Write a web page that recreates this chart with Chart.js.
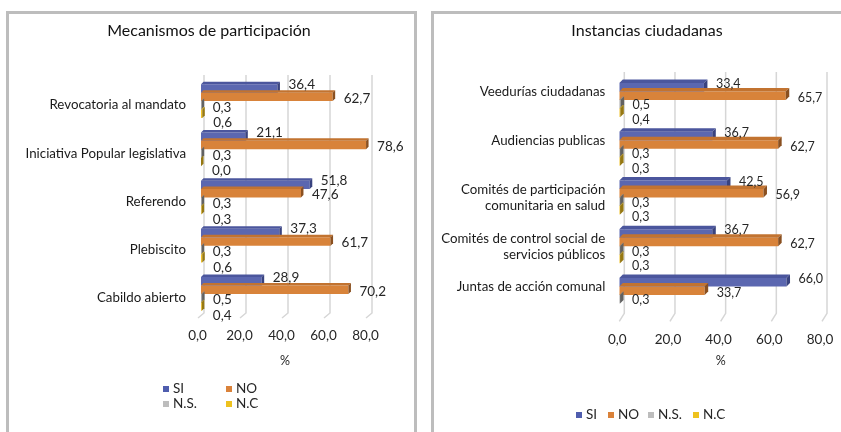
<!DOCTYPE html>
<html lang="es">
<head>
<meta charset="utf-8">
<title>Mecanismos de participación e instancias ciudadanas</title>
<script src="https://cdn.jsdelivr.net/npm/chart.js@4.4.1/dist/chart.umd.min.js"></script>
<style>
  html, body { margin: 0; padding: 0; background: #fff; overflow: hidden; }
  body { width: 841px; height: 432px; position: relative; font-family: Lato, sans-serif; }
  .box { position: absolute; border: 3px solid #bdbdbd; box-sizing: border-box; }
  canvas { position: absolute; top: 0; }
  .legend { position: absolute; font-size: 13.5px; color: #262626; }
  .legend span.item { position: absolute; white-space: nowrap; line-height: 15px; }
  .legend i { display: inline-block; width: 6px; height: 6px; margin-right: 4px; vertical-align: 1px; }
</style>
</head>
<body>
<div class="box" style="left:6px; top:11px; width:411px; height:450px;"></div>
<div class="box" style="left:431px; top:11px; width:440px; height:450px;"></div>
<canvas id="mecanismos" width="420" height="432" style="left:0"></canvas>
<canvas id="instancias" width="454" height="432" style="left:420px"></canvas>
<div class="legend" id="legendLeft"></div>
<div class="legend" id="legendRight"></div>
<script>
// series
const seriesNames = ['SI', 'NO', 'N.S.', 'N.C'];
const seriesColors = ['#5B67B0', '#D8833A', '#A7A7A7', '#F0C22C'];
const topColors = ['#4B569D', '#C27330', '#8E8E8E', '#D6AC22'];
const capColors = ['#39437F', '#8A5020', '#626262', '#967812'];
const legendColors = ['#4F5DAE', '#DA823A', '#BDBDBD', '#EEC21E'];
const xTicks = [0, 20, 40, 60, 80];

// Mecanismos de participación
const mecanismosCats = ['Revocatoria al mandato', 'Iniciativa Popular legislativa', 'Referendo', 'Plebiscito', 'Cabildo abierto'];
const mecanismosSI = [36.4, 21.1, 51.8, 37.3, 28.9];
const mecanismosNO = [62.7, 78.6, 47.6, 61.7, 70.2];
const mecanismosNS = [0.3, 0.3, 0.3, 0.3, 0.5];
const mecanismosNC = [0.6, 0.0, 0.3, 0.6, 0.4];

// Instancias ciudadanas (single-line names get an empty second line so they sit higher)
const instanciasCats = [
  ['Veedurías ciudadanas', ''],
  ['Audiencias publicas', ''],
  ['Comités de participación', 'comunitaria en salud'],
  ['Comités de control social de', 'servicios públicos'],
  ['Juntas de acción comunal', '']
];
const instanciasSI = [33.4, 36.7, 42.5, 36.7, 66.0];
const instanciasNO = [65.7, 62.7, 56.9, 62.7, 33.7];
const instanciasNS = [0.5, 0.3, 0.3, 0.3, 0.3];
const instanciasNC = [0.4, 0.3, 0.3, 0.3, null];

Chart.defaults.font.family = 'Lato';
Chart.defaults.color = '#262626';

const fmt = v => v.toFixed(1).replace('.', ',');

// fake 3D: slanted grid on the back wall, bar top/end faces, value labels and the title
const bars3d = {
  id: 'bars3d',
  beforeDatasetsDraw(chart, args, o) {
    const { ctx, chartArea: a, scales: { x } } = chart;
    ctx.save();
    ctx.strokeStyle = '#D6D6D6';
    ctx.lineWidth = 1.5;
    xTicks.forEach(v => {
      const px = x.getPixelForValue(v) + o.gridDx;
      ctx.beginPath();
      ctx.moveTo(px, a.top - o.gridRise);
      ctx.lineTo(px, a.bottom - o.footY);
      ctx.lineTo(px - o.footX, a.bottom + o.footDrop);
      ctx.stroke();
    });
    ctx.restore();
  },
  afterDatasetsDraw(chart, args, o) {
    const ctx = chart.ctx;
    const d = o.depth;
    ctx.save();
    chart.data.datasets.forEach((ds, i) => {
      chart.getDatasetMeta(i).data.forEach((bar, j) => {
        if (ds.data[j] == null) return;
        const { x, y, base, height } = bar.getProps(['x', 'y', 'base', 'height'], true);
        const top = y - height / 2, bottom = y + height / 2;
        ctx.fillStyle = topColors[i];
        ctx.beginPath();
        ctx.moveTo(base, top);
        ctx.lineTo(base + d, top - d);
        ctx.lineTo(x + d, top - d);
        ctx.lineTo(x, top);
        ctx.closePath();
        ctx.fill();
        ctx.fillStyle = capColors[i];
        ctx.beginPath();
        ctx.moveTo(x, top);
        ctx.lineTo(x + d, top - d);
        ctx.lineTo(x + d, bottom - d);
        ctx.lineTo(x, bottom);
        ctx.closePath();
        ctx.fill();
      });
    });
    ctx.restore();
  },
  afterDraw(chart, args, o) {
    const ctx = chart.ctx;
    ctx.save();
    ctx.font = o.labelSize + 'px Lato';
    ctx.fillStyle = '#262626';
    ctx.textAlign = 'left';
    ctx.textBaseline = 'middle';
    chart.data.datasets.forEach((ds, i) => {
      chart.getDatasetMeta(i).data.forEach((bar, j) => {
        const v = ds.data[j];
        if (v == null) return;
        ctx.fillText(fmt(v), bar.x + o.labelDx, bar.y + o.labelDy[i]);
      });
    });
    // chart title
    ctx.font = '16px Lato';
    ctx.fillStyle = '#111';
    ctx.textAlign = 'center';
    ctx.fillText(o.title, o.titleX, 31);
    ctx.restore();
  }
};

function makeChart(id, title, cats, series, lay) {
  return new Chart(document.getElementById(id), {
    type: 'bar',
    data: {
      labels: cats,
      datasets: series.map((data, i) => ({
        label: seriesNames[i],
        data: data,
        backgroundColor: seriesColors[i],
        borderWidth: 0,
        categoryPercentage: 0.7,
        barPercentage: 1.0
      }))
    },
    options: {
      indexAxis: 'y',
      responsive: false,
      animation: false,
      layout: { padding: { left: 0, right: lay.padRight, top: lay.padTop, bottom: lay.padBottom } },
      plugins: {
        legend: { display: false },
        tooltip: { enabled: false },
        title: { display: false },
        bars3d: Object.assign({ title: title }, lay.bars3d)
      },
      scales: {
        x: {
          min: 0,
          max: 80,
          afterBuildTicks: s => { s.ticks = xTicks.map(v => ({ value: v })); },
          afterFit: s => { s.height = lay.xHeight; },
          grid: { display: false, drawTicks: false },
          border: { display: false },
          ticks: {
            padding: lay.tickPad,
            labelOffset: lay.tickShift,
            font: { size: 13.5 },
            color: '#262626',
            callback: v => fmt(v)
          },
          title: {
            display: true,
            text: '%',
            color: '#262626',
            font: { size: 12.5 },
            padding: { top: 0, bottom: 0 }
          }
        },
        y: {
          afterFit: s => { s.width = lay.yWidth; },
          grid: { display: false, drawTicks: false },
          border: { display: false },
          ticks: {
            padding: lay.yPad,
            labelOffset: lay.yShift,
            font: { size: 13.3 },
            color: '#1a1a1a'
          }
        }
      }
    },
    plugins: [bars3d]
  });
}

makeChart('mecanismos', 'Mecanismos de participación', mecanismosCats,
  [mecanismosSI, mecanismosNO, mecanismosNS, mecanismosNC], {
    padTop: 77, padRight: 51, padBottom: 63.8, xHeight: 50.2,
    tickPad: 10, tickShift: -3.5,
    yWidth: 201, yPad: 15, yShift: 4,
    bars3d: { titleX: 209, depth: 2.5, gridDx: 3, gridRise: 2, footY: 5, footX: 6, footDrop: 0,
              labelDx: 11, labelSize: 13.5, labelDy: [-4, 1.5, 2, 9] }
  });

makeChart('instancias', 'Instancias ciudadanas', instanciasCats,
  [instanciasSI, instanciasNO, instanciasNS, instanciasNC], {
    padTop: 75.6, padRight: 52, padBottom: 63.8, xHeight: 48.8,
    tickPad: 12.4, tickShift: -2,
    yWidth: 199.3, yPad: 14, yShift: 0,
    bars3d: { titleX: 227, depth: 3.5, gridDx: 5, gridRise: 3.5, footY: 6, footX: 5, footDrop: 2,
              labelDx: 12, labelSize: 12.5, labelDy: [-3, 2, 1, 7] }
  });

// legends
function buildLegend(id, places, top) {
  const el = document.getElementById(id);
  seriesNames.forEach((name, i) => {
    const s = document.createElement('span');
    s.className = 'item';
    s.style.left = places[i][0] + 'px';
    s.style.top = (top + places[i][1]) + 'px';
    s.innerHTML = '<i style="background:' + legendColors[i] + '"></i>' + name;
    el.appendChild(s);
  });
}
buildLegend('legendLeft', [[163, 0], [226, 0], [163, 15], [226, 15]], 381);
buildLegend('legendRight', [[576, 0], [608, 0], [648, 0], [693, 0]], 407);
</script>
</body>
</html>
